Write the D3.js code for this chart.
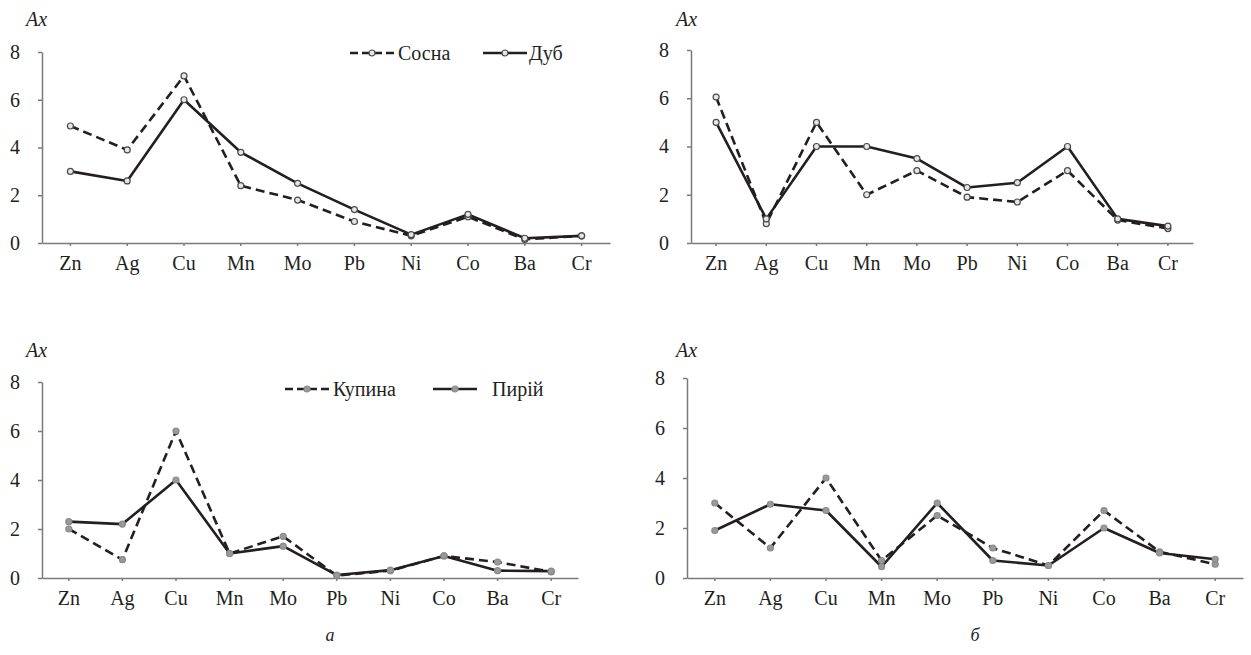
<!DOCTYPE html>
<html>
<head>
<meta charset="utf-8">
<script src="https://cdn.jsdelivr.net/npm/d3@7"></script>
</head>
<body style="margin:0">
<svg id="chart" width="1251" height="655"></svg>
<script>
// Data
// ---------------------------------------------------------

const elements = ["Zn", "Ag", "Cu", "Mn", "Mo", "Pb", "Ni", "Co", "Ba", "Cr"];
const yTicks = [0, 2, 4, 6, 8];

// panel a, top: trees
const sosnaA = [4.9, 3.9, 7.0, 2.4, 1.8, 0.9, 0.3, 1.1, 0.15, 0.3];
const dubA   = [3.0, 2.6, 6.0, 3.8, 2.5, 1.4, 0.35, 1.2, 0.2, 0.3];
// panel б, top: trees
const sosnaB = [6.05, 0.8, 5.0, 2.0, 3.0, 1.9, 1.7, 3.0, 0.95, 0.6];
const dubB   = [5.0, 1.0, 4.0, 4.0, 3.5, 2.3, 2.5, 4.0, 1.0, 0.7];
// panel a, bottom: herbs
const kupynaA = [2.0, 0.75, 6.0, 1.0, 1.7, 0.1, 0.3, 0.9, 0.65, 0.25];
const pyriiA  = [2.3, 2.2, 4.0, 1.0, 1.3, 0.12, 0.32, 0.9, 0.3, 0.28];
// panel б, bottom: herbs
const kupynaB = [3.0, 1.2, 4.0, 0.7, 2.5, 1.2, 0.5, 2.7, 1.05, 0.55];
const pyriiB  = [1.9, 2.95, 2.7, 0.45, 3.0, 0.7, 0.5, 2.0, 1.0, 0.75];

const seriesNamesTop = ["Сосна", "Дуб"];
const seriesNamesBottom = ["Купина", "Пирій"];

// Layout
// ---------------------------------------------------------

const panels = [
    { x0: 42,  x1: 610,  yTop: 52,  yBottom: 243, axLabelX: 26,  axLabelY: 26,
      series: [sosnaA, dubA], names: seriesNamesTop, legend: { x: 350, y: 53, gap: 133 }, marker: "open" },
    { x0: 691, x1: 1193, yTop: 50,  yBottom: 243, axLabelX: 676, axLabelY: 26,
      series: [sosnaB, dubB], names: seriesNamesTop, legend: null, marker: "open" },
    { x0: 42,  x1: 578,  yTop: 382, yBottom: 578, axLabelX: 26,  axLabelY: 357,
      series: [kupynaA, pyriiA], names: seriesNamesBottom, legend: { x: 285, y: 389, gap: 148 }, marker: "filled" },
    { x0: 687, x1: 1243, yTop: 378, yBottom: 578, axLabelX: 676, axLabelY: 357,
      series: [kupynaB, pyriiB], names: seriesNamesBottom, legend: null, marker: "filled" }
];

const lineColor = "#231f20",
    axisColor = "#7a7a7a",
    dashPattern = "9,5",
    fontFamily = '"Liberation Serif"',
    fontSize = 20;

const svg = d3.select("#chart");

function markerStyle(sel, kind) {
    sel.attr("r", 3)
        .attr("fill", kind === "open" ? "#e6e6e6" : "#9a9a9a")
        .attr("stroke", kind === "open" ? "#4a4a4a" : "#8a8a8a")
        .attr("stroke-width", 1.2);
}

function textStyle(sel, size) {
    sel.attr("font-family", null)
        .attr("font-size", size)
        .style("font-family", fontFamily)
        .attr("fill", "#231f20");
}

panels.forEach(p => {

    let g = svg.append("g");

    // Scales
    let x = d3.scaleBand().domain(elements).range([p.x0, p.x1]);
    let y = d3.scaleLinear().domain([0, 8]).range([p.yBottom, p.yTop]);
    let cx = d => x(d) + x.bandwidth() / 2;

    // Axes
    let yAxis = g.append("g")
        .attr("transform", `translate(${p.x0},0)`)
        .call(d3.axisLeft(y).tickValues(yTicks).tickSize(4).tickSizeOuter(0).tickPadding(18));

    let xAxis = g.append("g")
        .attr("transform", `translate(0,${p.yBottom})`)
        .call(d3.axisBottom(x).tickSize(3).tickSizeOuter(0).tickPadding(10));

    [xAxis, yAxis].forEach(a => {
        a.attr("font-family", null).attr("font-size", null);
        a.selectAll("path, line").attr("stroke", axisColor).attr("stroke-width", 1.5);
        a.selectAll("text").call(textStyle, fontSize);
    });

    g.append("text")
        .attr("x", p.axLabelX)
        .attr("y", p.axLabelY)
        .attr("font-style", "italic")
        .call(textStyle, fontSize)
        .text("Ax");

    // Lines
    let lineGen = d3.line()
        .x((d, i) => cx(elements[i]))
        .y(d => y(d));

    p.series.forEach((s, si) => {
        g.append("path")
            .datum(s)
            .attr("d", lineGen)
            .attr("fill", "none")
            .attr("stroke", lineColor)
            .attr("stroke-width", 2.6)
            .attr("stroke-linejoin", "round")
            .attr("stroke-dasharray", si === 0 ? dashPattern : null);
    });

    p.series.forEach(s => {
        g.selectAll(null)
            .data(s)
            .enter()
            .append("circle")
            .attr("cx", (d, i) => cx(elements[i]))
            .attr("cy", d => y(d))
            .call(markerStyle, p.marker);
    });

    // Legend
    if (p.legend) {
        let lg = g.append("g").attr("transform", `translate(${p.legend.x},${p.legend.y})`);
        p.names.forEach((name, i) => {
            let item = lg.append("g").attr("transform", `translate(${i * p.legend.gap},0)`);
            item.append("line")
                .attr("x1", 0).attr("x2", 44)
                .attr("stroke", lineColor)
                .attr("stroke-width", 2.6)
                .attr("stroke-dasharray", i === 0 ? "8,4" : null);
            item.append("circle").attr("cx", 22).attr("cy", 0).call(markerStyle, p.marker);
            item.append("text")
                .attr("x", i === 0 ? 48 : (p.marker === "open" ? 46 : 59))
                .attr("y", 7)
                .call(textStyle, fontSize)
                .text(name);
        });
    }
});

// Captions
svg.append("text").attr("x", 330).attr("y", 641)
    .attr("font-style", "italic").attr("text-anchor", "middle")
    .call(textStyle, 18).text("а");
svg.append("text").attr("x", 975).attr("y", 641)
    .attr("font-style", "italic").attr("text-anchor", "middle")
    .call(textStyle, 18).text("б");
</script>
</body>
</html>
